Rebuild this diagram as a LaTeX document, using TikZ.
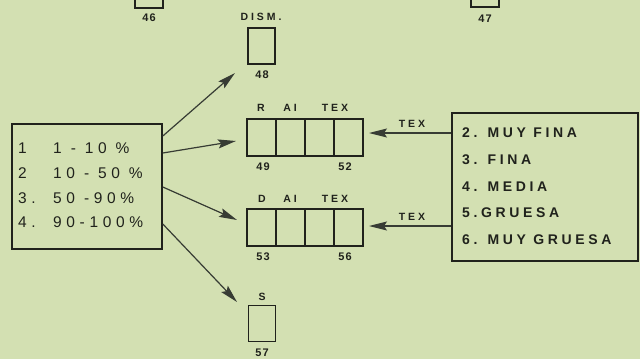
\documentclass[tikz,border=0pt]{standalone}
\usepackage{fontspec}
\setmainfont{Liberation Sans}
\newfontfamily\leftfont[LetterSpace=30]{Liberation Sans}
\newfontfamily\rightfont[LetterSpace=26]{Liberation Sans}
\newfontfamily\smallfont[LetterSpace=28]{Liberation Sans}
\newfontfamily\numfont[LetterSpace=10]{Liberation Sans}
\usetikzlibrary{arrows.meta}
\definecolor{bg}{RGB}{211,224,178}
\definecolor{ink}{RGB}{32,34,28}
\definecolor{shaft}{RGB}{55,60,52}
\tikzset{
  cell/.style={draw=ink, line width=1.7pt, inner sep=0pt, minimum width=29pt, minimum height=37pt},
  single/.style={draw=ink, line width=1.7pt, inner sep=0pt, minimum width=27pt, minimum height=36pt},
  frame/.style={draw=ink, line width=1.6pt, inner sep=0pt},
  lab/.style={text=ink, font=\smallfont\bfseries\fontsize{10.5}{11}\selectfont, inner sep=0pt},
  num/.style={text=ink, font=\numfont\bfseries\fontsize{11}{11}\selectfont, inner sep=0pt},
  lefttxt/.style={text=ink, font=\leftfont\fontsize{15.5}{16}\selectfont, inner sep=0pt, anchor=west},
  righttxt/.style={text=ink, font=\rightfont\bfseries\fontsize{14}{15}\selectfont, inner sep=0pt, anchor=west},
  arr/.style={draw=shaft, line width=1.2pt, -{Stealth[length=18pt,width=9pt,inset=3pt,fill=shaft]}}
}
\begin{document}
\begin{tikzpicture}[x=1pt,y=-1pt]
\fill[bg] (0,0) rectangle (640,359);
\useasboundingbox (0,0) rectangle (640,359);
\clip (0,0) rectangle (640,359);

% top partial boxes
\node[single, minimum width=28pt] (b46) at (149,-10) {};
\node[num] (l46) at (149,18) {46};
\node[single, minimum width=28pt] (b47) at (485,-11) {};
\node[num] (l47) at (485,19) {47};

% box 48
\node[lab] (dism) at (261,17) {DISM.};
\node[single] (b48) at (261.5,46) {};
\node[num] (l48) at (262,75) {48};

% row R
\node[cell] (r1) at (261.5,137.5) {};
\node[cell] (r2) at (290.5,137.5) {};
\node[cell] (r3) at (319.5,137.5) {};
\node[cell] (r4) at (348.5,137.5) {};
\node[lab] (lr) at (261,108) {R};
\node[lab] (lai1) at (290,108) {AI};
\node[lab] (ltex1) at (335,108) {TEX};
\node[num] (l49) at (263,167) {49};
\node[num] (l52) at (345,167) {52};

% row D
\node[cell] (d1) at (261.5,227.5) {};
\node[cell] (d2) at (290.5,227.5) {};
\node[cell] (d3) at (319.5,227.5) {};
\node[cell] (d4) at (348.5,227.5) {};
\node[lab] (ld) at (262,199) {D};
\node[lab] (lai2) at (290,199) {AI};
\node[lab] (ltex2) at (335,199) {TEX};
\node[num] (l53) at (263,257) {53};
\node[num] (l56) at (345,257) {56};

% box 57
\node[lab] (ls) at (262,297) {S};
\node[single] (b57) at (262,323.5) {};
\node[num] (l57) at (262,353) {57};

% left box
\node[frame, minimum width=150pt, minimum height=125pt] (lb) at (87,186.5) {};
\node[lefttxt] (n1) at (18,148) {1};
\node[lefttxt] (v1) at (53,148) {1 - 10 \%};
\node[lefttxt] (n2) at (18,173) {2};
\node[lefttxt] (v2) at (53,173) {10 - 50 \%};
\node[lefttxt] (n3) at (18,198) {3.};
\node[lefttxt] (v3) at (53,198) {50 -90\%};
\node[lefttxt] (n4) at (18,222) {4.};
\node[lefttxt] (v4) at (53,222) {90-100\%};

% right box
\node[frame, minimum width=186pt, minimum height=148pt] (rb) at (545,187) {};
\node[righttxt] (m2) at (462,133) {2. MUY FINA};
\node[righttxt] (m3) at (462,160) {3. FINA};
\node[righttxt] (m4) at (462,187) {4. MEDIA};
\node[righttxt] (m5) at (462,213) {5.GRUESA};
\node[righttxt] (m6) at (462,240) {6. MUY GRUESA};

% arrow end points
\coordinate (t1) at (235,73);
\coordinate (t2) at (236,141);
\coordinate (t3) at (237,220);
\coordinate (t4) at (237,302);
\coordinate (tr1) at (369,133);
\coordinate (tr2) at (369,226);

\draw[arr] (lb.east |- 0,136) -- (t1);
\draw[arr] (lb.east |- 0,153) -- (t2);
\draw[arr] (lb.east |- 0,187) -- (t3);
\draw[arr] (lb.east |- 0,224) -- (t4);
\draw[arr] (rb.west |- tr1) -- (tr1);
\draw[arr] (rb.west |- tr2) -- (tr2);
\node[lab] (tx1) at (412,124) {TEX};
\node[lab] (tx2) at (412,217) {TEX};
\end{tikzpicture}
\end{document}
